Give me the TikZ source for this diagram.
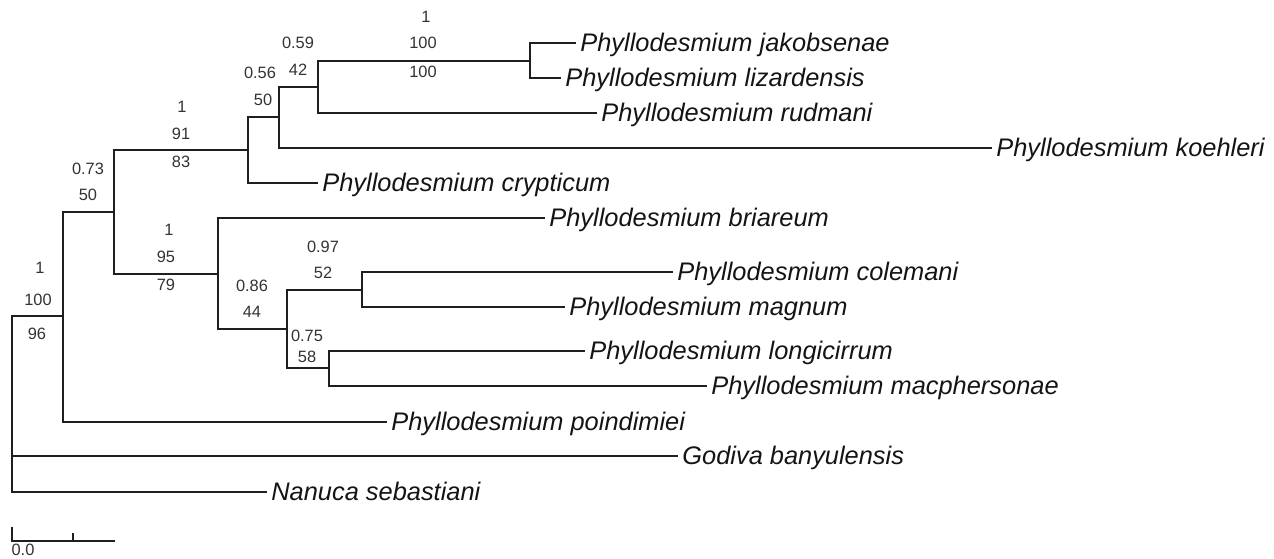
\documentclass[tikz,border=0pt]{standalone}
\usepackage{fontspec}
\setmainfont{Liberation Sans}
\begin{document}
\begin{tikzpicture}[x=0.5pt,y=-0.5pt,
  br/.style={draw=black!88,line width=0.8pt},
  taxon/.style={anchor=base west,inner sep=0pt,font=\fontsize{12.7}{15}\selectfont\itshape,text=black!92,yshift=-4pt,xshift=2pt},
  sup/.style={anchor=center,inner sep=0pt,font=\fontsize{8.2}{9}\selectfont,text=black!80}]
\useasboundingbox (0,0) rectangle (1274,558);
% internal nodes
\coordinate (J) at (12,400);
\coordinate (I) at (63,316);
\coordinate (D) at (114,212);
\coordinate (C) at (248,150);
\coordinate (B) at (279,117);
\coordinate (A) at (318,87);
\coordinate (K) at (530,61);
\coordinate (E) at (218,274);
\coordinate (F) at (287,329);
\coordinate (G) at (362,290);
\coordinate (H) at (329,368);
% tips
\coordinate (tjak) at (576,43);
\coordinate (tliz) at (561,78);
\coordinate (trud) at (597,113);
\coordinate (tkoe) at (992,148);
\coordinate (tcry) at (318,183);
\coordinate (tbri) at (545,218);
\coordinate (tcol) at (673,272);
\coordinate (tmag) at (565,307);
\coordinate (tlon) at (585,351);
\coordinate (tmac) at (707,386);
\coordinate (tpoi) at (387,422);
\coordinate (tgod) at (678,456);
\coordinate (tnan) at (267,492);
% branches
\draw[br] (J) |- (I);
\draw[br] (J) |- (tgod);
\draw[br] (J) |- (tnan);
\draw[br] (I) |- (D);
\draw[br] (I) |- (tpoi);
\draw[br] (D) |- (C);
\draw[br] (D) |- (E);
\draw[br] (C) |- (B);
\draw[br] (C) |- (tcry);
\draw[br] (B) |- (A);
\draw[br] (B) |- (tkoe);
\draw[br] (A) |- (K);
\draw[br] (A) |- (trud);
\draw[br] (K) |- (tjak);
\draw[br] (K) |- (tliz);
\draw[br] (E) |- (tbri);
\draw[br] (E) |- (F);
\draw[br] (F) |- (G);
\draw[br] (F) |- (H);
\draw[br] (G) |- (tcol);
\draw[br] (G) |- (tmag);
\draw[br] (H) |- (tlon);
\draw[br] (H) |- (tmac);
% taxon labels
\node[taxon] (njak) at (tjak) {Phyllodesmium jakobsenae};
\node[taxon] (nliz) at (tliz) {Phyllodesmium lizardensis};
\node[taxon] (nrud) at (trud) {Phyllodesmium rudmani};
\node[taxon] (nkoe) at (tkoe) {Phyllodesmium koehleri};
\node[taxon] (ncry) at (tcry) {Phyllodesmium crypticum};
\node[taxon] (nbri) at (tbri) {Phyllodesmium briareum};
\node[taxon] (ncol) at (tcol) {Phyllodesmium colemani};
\node[taxon] (nmag) at (tmag) {Phyllodesmium magnum};
\node[taxon] (nlon) at (tlon) {Phyllodesmium longicirrum};
\node[taxon] (nmac) at (tmac) {Phyllodesmium macphersonae};
\node[taxon] (npoi) at (tpoi) {Phyllodesmium poindimiei};
\node[taxon] (ngod) at (tgod) {Godiva banyulensis};
\node[taxon] (nnan) at (tnan) {Nanuca sebastiani};
% support values
\node[sup] (s1) at (426,17) {1};
\node[sup] (s2) at (423,43) {100};
\node[sup] (s3) at (423,72) {100};
\node[sup] (s4) at (298,43) {0.59};
\node[sup] (s5) at (298,70) {42};
\node[sup] (s6) at (260,73) {0.56};
\node[sup] (s7) at (263,100) {50};
\node[sup] (s8) at (182,107) {1};
\node[sup] (s9) at (181,134) {91};
\node[sup] (s10) at (181,162) {83};
\node[sup] (s11) at (88,169) {0.73};
\node[sup] (s12) at (88,195) {50};
\node[sup] (s13) at (169,230) {1};
\node[sup] (s14) at (166,257) {95};
\node[sup] (s15) at (166,285) {79};
\node[sup] (s16) at (323,247) {0.97};
\node[sup] (s17) at (323,273) {52};
\node[sup] (s18) at (252,286) {0.86};
\node[sup] (s19) at (252,312) {44};
\node[sup] (s20) at (307,336) {0.75};
\node[sup] (s21) at (307,357) {58};
\node[sup] (s22) at (40,268) {1};
\node[sup] (s23) at (38,300) {100};
\node[sup] (s24) at (37,334) {96};
% scale bar
\coordinate (sb0) at (12,541);
\coordinate (sb1) at (115,541);
\coordinate (sbt) at (73,541);
\draw[br] ([yshift=7pt]sb0) -- (sb0) -- (sb1);
\draw[br] (sbt) -- ([yshift=4pt]sbt);
\node[sup] (sbl) at (23,550) {0.0};
\end{tikzpicture}
\end{document}
